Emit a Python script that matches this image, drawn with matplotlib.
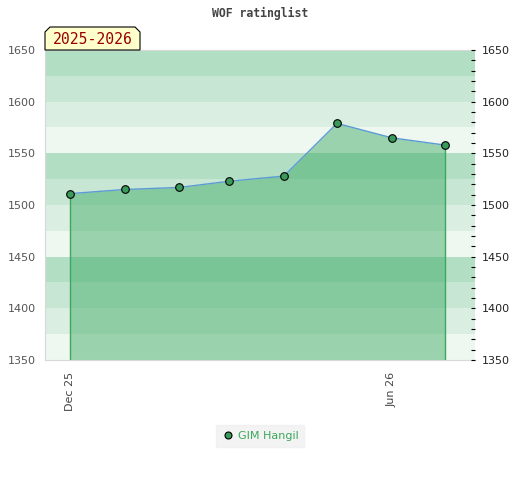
import matplotlib
matplotlib.use("Agg")
import matplotlib.pyplot as plt
import matplotlib.dates as mdates
from matplotlib.patches import Polygon
from matplotlib.ticker import MultipleLocator
import numpy as np

# data
dates = ["2025-12-01", "2026-01-01", "2026-02-01", "2026-03-01",
         "2026-04-01", "2026-05-01", "2026-06-01", "2026-07-01"]
ratings = [1511, 1515, 1517, 1523, 1528, 1579, 1565, 1558]
player = "GIM Hangil"
season = "2025-2026"
title = "WOF ratinglist"
tick_dates = ["2025-12-01", "2026-06-01"]
tick_labels = ["Dec 25", "Jun 26"]

x = mdates.datestr2num(dates)
W, H = 520, 480
fig = plt.figure(figsize=(W / 100, H / 100), dpi=100)
ax = fig.add_axes([45 / W, 1 - 360 / H, 430 / W, 310 / H])

ymin, ymax = 1350, 1650
band_cols = ["#b2dec4", "#c8e6d4", "#dbeee2", "#eff7f1"]
for i, lo in enumerate(range(ymax - 25, ymin - 1, -25)):
    ax.axhspan(lo, lo + 25, color=band_cols[i % 4], lw=0, zorder=0)

ax.fill_between(x, ratings, ymin, color="#44ae6a", alpha=0.5, lw=0, zorder=1)
ax.vlines([x[0], x[-1]], ymin, [ratings[0], ratings[-1]], color="#3aa860", lw=1, zorder=2)
ax.plot(x, ratings, color="#5b9bd5", lw=1, zorder=3)
ax.plot(x, ratings, "o", ms=5.5, mfc="#3a9a5a", mec="black", mew=0.8, zorder=4)

ax.set_xlim(mdates.datestr2num("2025-11-17"), mdates.datestr2num("2026-07-18"))
ax.set_ylim(ymin, ymax)
ax.set_yticks(range(ymin, ymax + 1, 50))
ax.tick_params(axis="y", length=0, pad=6.5, labelsize=8, labelcolor="#555555")
ax.set_xticks(mdates.datestr2num(tick_dates))
ax.set_xticklabels(tick_labels, rotation=90)
ax.tick_params(axis="x", length=0, pad=8.5, labelsize=8, labelcolor="#444444")
for s in ["left", "bottom", "top"]:
    ax.spines[s].set_color("#d8d8d8")
ax.spines["right"].set_visible(False)

ax2 = ax.twinx()
ax2.set_ylim(ymin, ymax)
ax2.set_yticks(range(ymin, ymax + 1, 50))
ax2.yaxis.set_minor_locator(MultipleLocator(10))
ax2.tick_params(axis="y", which="both", direction="in", length=3, width=0.8,
                pad=5, labelsize=8, labelcolor="#222222")
for s in ax2.spines.values():
    s.set_visible(False)

fig.text(0.5, 1 - 13 / H, title, ha="center", va="center", fontsize=8.3,
         family="DejaVu Sans Mono", weight="bold", color="#444444")

# season tag
x0, x1, y0, y1, c = 45, 140, 50, 27, 5
pts = [(x0, y0), (x0, y1 + c), (x0 + c, y1), (x1 - c, y1), (x1, y1 + c), (x1, y0)]
pts = [(px / W, 1 - py / H) for px, py in pts]
fig.patches.append(Polygon(pts, closed=True, transform=fig.transFigure,
                           fc="#ffffcc", ec="black", lw=0.8, zorder=5))
fig.text((x0 + x1) / 2 / W, 1 - 40 / H, season, ha="center", va="center",
         fontsize=10.6, family="DejaVu Sans Mono", color="#990000", zorder=6)

# legend
leg = fig.legend(handles=[plt.Line2D([], [], ls="", marker="o", ms=5, mfc="#3a9a5a",
                                     mec="black", mew=0.8, label=player)],
                 loc="center", bbox_to_anchor=(260 / W, 1 - 436 / H), fontsize=8,
                 frameon=True, fancybox=False, handletextpad=0.3, handlelength=1.2,
                 borderpad=0.5)
leg.get_frame().set_facecolor("#f0f0f0")
leg.get_frame().set_edgecolor("#f0f0f0")
for t in leg.get_texts():
    t.set_color("#3aa85a")

fig.savefig("out.png", dpi=100)
